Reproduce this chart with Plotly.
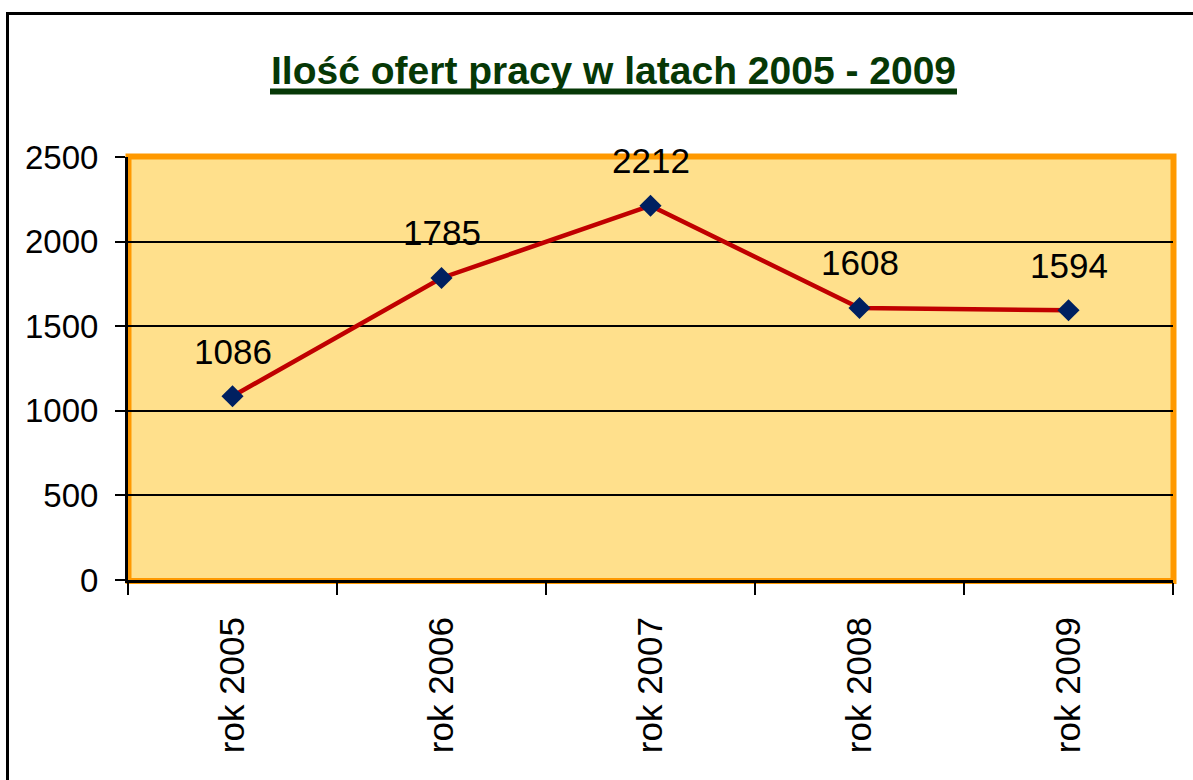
import plotly.graph_objects as go

categories = ["rok 2005", "rok 2006", "rok 2007", "rok 2008", "rok 2009"]
values = [1086, 1785, 2212, 1608, 1594]
y_ticks = [0, 500, 1000, 1500, 2000, 2500]
title_text = "Ilość ofert pracy w latach 2005 - 2009"

W, H = 1193, 780
L, R, T, B = 128, 20, 157, 200
PW, PH = W - L - R, H - T - B


def px(x):
    return (x - L) / PW


def py(y):
    return (H - B - y) / PH


FONT = "Liberation Sans, Arial, sans-serif"
GREEN = "#063806"

fig = go.Figure()
fig.add_trace(go.Scatter(
    x=categories, y=values, mode="lines+markers",
    line=dict(color="#C00000", width=4.5),
    marker=dict(symbol="diamond", size=17, color="#002060"),
    showlegend=False, hoverinfo="x+y",
))

annotations = [
    dict(x=c, y=v, xref="x", yref="y", text=str(v), showarrow=False,
         yshift=45, font=dict(family=FONT, size=35, color="black"))
    for c, v in zip(categories, values)
]
annotations.append(dict(
    x=px(613), y=py(71), xref="paper", yref="paper", text="<b>" + title_text + "</b>",
    showarrow=False, xanchor="center", yanchor="middle",
    font=dict(family=FONT, size=39, color=GREEN),
))

shapes = [
    # orange plot border
    dict(type="rect", xref="paper", yref="paper", x0=px(128.5), x1=px(1173.5),
         y0=py(581), y1=py(156.5), line=dict(color="#FF9900", width=6),
         layer="between"),
    # title underline
    dict(type="line", xref="paper", yref="paper", x0=px(270), x1=px(957),
         y0=py(91.5), y1=py(91.5), line=dict(color=GREEN, width=6)),
    # outer frame
    dict(type="line", xref="paper", yref="paper", x0=px(7.5), x1=px(7.5),
         y0=py(12), y1=py(790), line=dict(color="black", width=3)),
    dict(type="line", xref="paper", yref="paper", x0=px(6), x1=px(1200),
         y0=py(13.5), y1=py(13.5), line=dict(color="black", width=3)),
]

fig.update_layout(
    width=W, height=H,
    margin=dict(l=L, r=R, t=T, b=B, pad=0),
    paper_bgcolor="white", plot_bgcolor="#FFE08C",
    annotations=annotations, shapes=shapes,
    font=dict(family=FONT, color="black"),
)
fig.update_xaxes(
    type="category", range=[-0.5, len(categories) - 0.5],
    tickson="boundaries", ticks="outside", ticklen=12, tickwidth=2,
    tickcolor="black", showline=True, linecolor="black", linewidth=3,
    tickangle=-90, tickfont=dict(family=FONT, size=35, color="black"),
    showgrid=False, ticklabelstandoff=20,
)
fig.update_yaxes(
    range=[0, 2500], tickvals=y_ticks, ticks="outside", ticklen=10,
    tickwidth=2, tickcolor="black", showline=True, linecolor="black",
    linewidth=3, showgrid=True, gridcolor="black", gridwidth=1.5,
    zeroline=False, tickfont=dict(family=FONT, size=33, color="black"),
    ticklabelstandoff=10,
)

fig.write_html("out.html", config={"displayModeBar": False},
               post_script="document.body.style.margin='0px';")
